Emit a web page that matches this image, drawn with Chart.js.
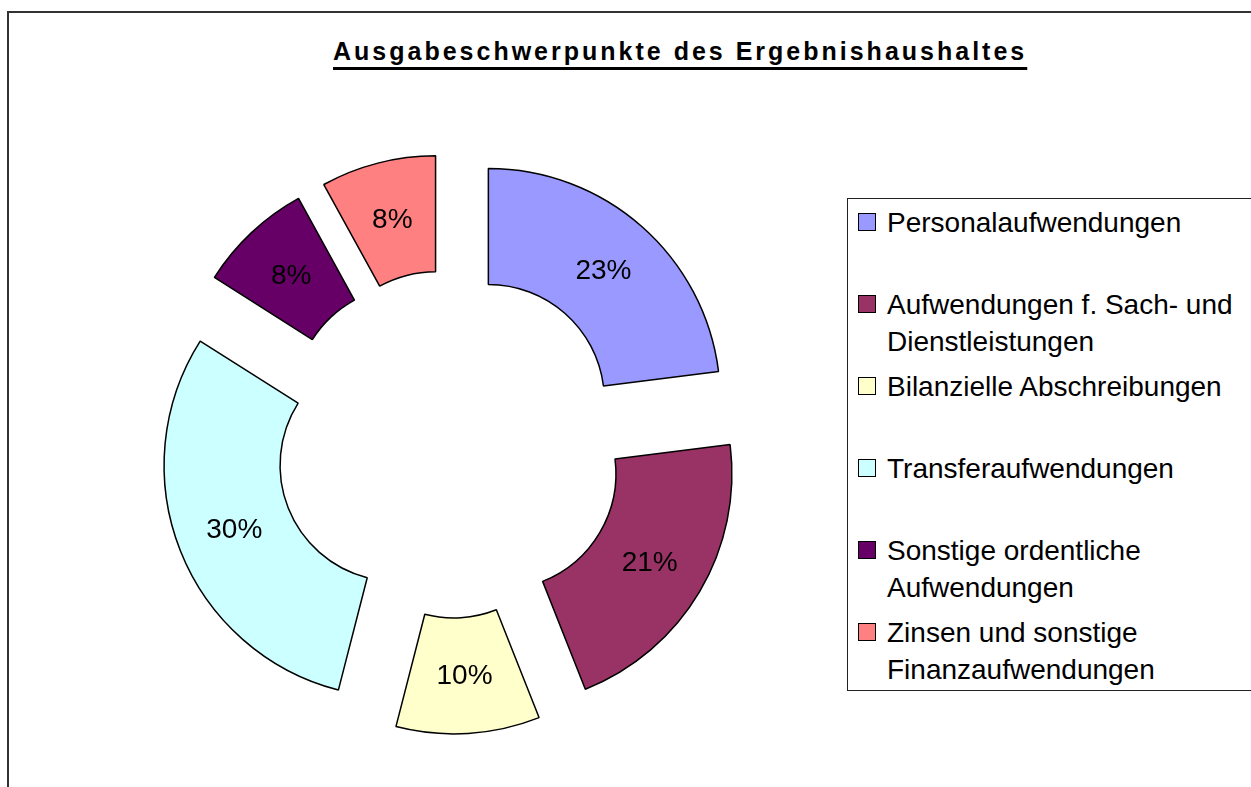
<!DOCTYPE html>
<html>

<head>
  <title>Ausgabeschwerpunkte des Ergebnishaushaltes</title>
  <script src="https://cdn.jsdelivr.net/npm/chart.js@4/dist/chart.umd.min.js"></script>
  <style>
    html,
    body {
      margin: 0;
      width: 1251px;
      height: 787px;
      background: #fff;
      overflow: hidden;
      font-family: "Liberation Sans", Arial, sans-serif;
    }

    #frame {
      position: absolute;
      left: 7px;
      top: 11px;
      width: 1242px;
      height: 776px;
      border-left: 2px solid #333;
      border-top: 2px solid #333;
    }

    #title {
      position: absolute;
      left: 333px;
      top: 36px;
      margin: 0;
      font-size: 25px;
      line-height: 30px;
      font-weight: bold;
      letter-spacing: 3px;
      white-space: nowrap;
      text-decoration: underline;
      text-decoration-thickness: 3px;
      text-underline-offset: 7px;
    }

    #chartWrap {
      position: absolute;
      left: 0;
      top: 0;
    }

    #legend {
      position: absolute;
      left: 847px;
      top: 198px;
      width: 403px;
      height: 491px;
      overflow: hidden;
      border: 1px solid #222;
      border-right: none;
      background: #fff;
    }

    .item {
      position: absolute;
      left: 0;
      font-size: 28px;
      line-height: 37px;
      white-space: nowrap;
    }

    .item .box {
      position: absolute;
      left: 10px;
      top: 9px;
      width: 18px;
      height: 18px;
      box-sizing: border-box;
      border: 1.5px solid #000;
    }

    .item .text {
      margin-left: 39px;
    }
  </style>
</head>

<body>
  <div id="frame"></div>
  <h1 id="title">Ausgabeschwerpunkte des Ergebnishaushaltes</h1>
  <div id="chartWrap">
    <canvas id="pieChart" width="1251" height="787"></canvas>
  </div>
  <div id="legend"></div>

  <script>
    // categories (legend lines) and their share in percent
    const categories = [
      ['Personalaufwendungen'],
      ['Aufwendungen f. Sach- und', 'Dienstleistungen'],
      ['Bilanzielle Abschreibungen'],
      ['Transferaufwendungen'],
      ['Sonstige ordentliche', 'Aufwendungen'],
      ['Zinsen und sonstige', 'Finanzaufwendungen']
    ];
    const shares = [23, 21, 10, 30, 8, 8];
    const colours = ['#9999FF', '#993366', '#FFFFCC', '#CCFFFF', '#660066', '#FF8080'];

    const EXPLODE = 58; // every slice pulled out by the same distance

    // draw the arcs moved outwards along their middle angle
    const explodePlugin = {
      id: 'explode',
      beforeDatasetDraw(chart, args) {
        const ctx = chart.ctx;
        args.meta.data.forEach(arc => {
          const mid = (arc.startAngle + arc.endAngle) / 2;
          ctx.save();
          ctx.translate(Math.cos(mid) * EXPLODE, Math.sin(mid) * EXPLODE);
          arc.draw(ctx);
          ctx.restore();
        });
        return false;
      }
    };

    // percentage labels in the middle of each slice
    const labelPlugin = {
      id: 'sliceLabels',
      afterDatasetsDraw(chart) {
        const ctx = chart.ctx;
        const ds = chart.data.datasets[0];
        ctx.save();
        ctx.font = '28px "Liberation Sans", Arial, sans-serif';
        ctx.fillStyle = '#000';
        ctx.textAlign = 'center';
        ctx.textBaseline = 'middle';
        chart.getDatasetMeta(0).data.forEach((arc, i) => {
          const mid = (arc.startAngle + arc.endAngle) / 2;
          const r = EXPLODE + (arc.innerRadius + arc.outerRadius) / 2;
          const x = arc.x + Math.cos(mid) * r;
          const y = arc.y + Math.sin(mid) * r;
          ctx.fillText(ds.data[i] + '%', x, y + 1);
        });
        ctx.restore();
      }
    };

    const ctx = document.getElementById('pieChart').getContext('2d');
    const pieChart = new Chart(ctx, {
      type: 'doughnut',
      data: {
        labels: categories,
        datasets: [{
          data: shares,
          backgroundColor: colours,
          borderColor: '#000',
          borderWidth: 1.5,
          radius: 232,
        }],
      },
      options: {
        responsive: false,
        animation: false,
        cutout: '50%',
        events: [],
        layout: {
          padding: { left: 0, right: 351, top: 101, bottom: 0 }
        },
        plugins: {
          legend: { display: false },
          tooltip: { enabled: false },
        },
      },
      plugins: [explodePlugin, labelPlugin],
    });

    // legend with fixed row height, like the original
    const legend = document.getElementById('legend');
    categories.forEach((lines, i) => {
      const item = document.createElement('div');
      item.className = 'item';
      item.style.top = (5 + 82 * i) + 'px';
      const box = document.createElement('span');
      box.className = 'box';
      box.style.background = colours[i];
      const text = document.createElement('div');
      text.className = 'text';
      text.innerHTML = lines.join('<br>');
      item.appendChild(box);
      item.appendChild(text);
      legend.appendChild(item);
    });
  </script>
</body>

</html>
